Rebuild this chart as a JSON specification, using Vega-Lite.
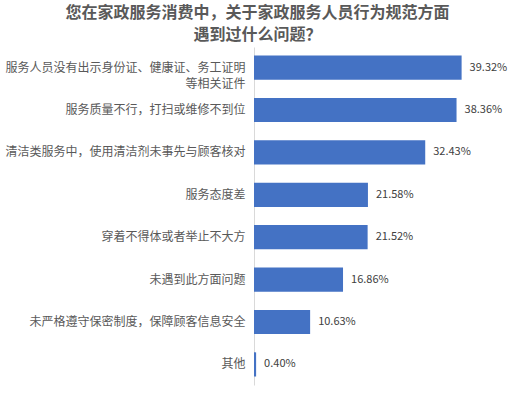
{
  "$schema": "https://vega.github.io/schema/vega-lite/v6.json",
  "autosize": {"type": "fit", "contains": "padding"},
  "width": 520,
  "height": 401,
  "padding": {"left": 4, "right": 2, "top": 5, "bottom": 16},
  "background": "white",
  "title": {
    "text": ["您在家政服务消费中，关于家政服务人员行为规范方面", "遇到过什么问题？"],
    "font": "Noto Sans CJK SC",
    "fontSize": 16,
    "fontWeight": "bold",
    "color": "#595959",
    "lineHeight": 22,
    "anchor": "middle",
    "frame": "bounds",
    "dx": -4,
    "offset": 4
  },
  "data": {
    "values": [
      {"item": "服务人员没有出示身份证、健康证、务工证明等相关证件", "share": 0.3932},
      {"item": "服务质量不行，打扫或维修不到位", "share": 0.3836},
      {"item": "清洁类服务中，使用清洁剂未事先与顾客核对", "share": 0.3243},
      {"item": "服务态度差", "share": 0.2158},
      {"item": "穿着不得体或者举止不大方", "share": 0.2152},
      {"item": "未遇到此方面问题", "share": 0.1686},
      {"item": "未严格遵守保密制度，保障顾客信息安全", "share": 0.1063},
      {"item": "其他", "share": 0.004}
    ]
  },
  "encoding": {
    "y": {
      "field": "item",
      "type": "nominal",
      "sort": null,
      "title": null,
      "scale": {"paddingInner": 0.43, "paddingOuter": 0.2},
      "axis": {
        "ticks": false,
        "domainColor": "#d9d9d9",
        "domainWidth": 1,
        "labelFont": "Noto Sans CJK SC",
        "labelFontSize": 12,
        "labelColor": "#595959",
        "labelPadding": 9,
        "labelLimit": 400,
        "labelLineHeight": 16,
        "labelExpr": "datum.value == '服务人员没有出示身份证、健康证、务工证明等相关证件' ? ['服务人员没有出示身份证、健康证、务工证明', '等相关证件'] : datum.value"
      }
    },
    "x": {
      "field": "share",
      "type": "quantitative",
      "scale": {"domain": [0, 0.5]},
      "axis": null
    }
  },
  "layer": [
    {
      "mark": {"type": "bar", "color": "#4472c4"}
    },
    {
      "mark": {
        "type": "text",
        "align": "left",
        "dx": 8,
        "font": "Noto Sans CJK SC",
        "fontSize": 11,
        "color": "#404040"
      },
      "encoding": {
        "text": {"field": "share", "type": "quantitative", "format": ".2%"}
      }
    }
  ],
  "config": {"view": {"stroke": null}}
}
